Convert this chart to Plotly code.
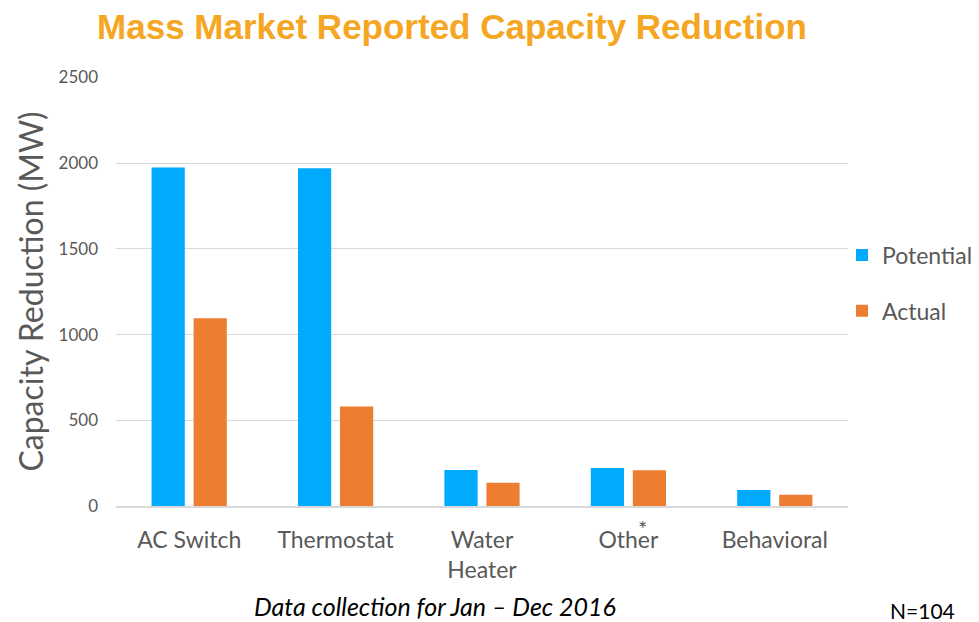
import plotly.graph_objects as go

categories = ["AC Switch", "Thermostat", "Water<br>Heater", "Other", "Behavioral"]
potential = [1975, 1970, 210, 222, 93]
actual = [1095, 580, 136, 208, 66]
y_ticks = [0, 500, 1000, 1500, 2000, 2500]

BLUE = "#00AAFF"
ORANGE = "#ED7D31"
GREY = "#595959"
FONT = "Lato, Open Sans, sans-serif"

# the page has an 8px body margin, so everything is laid out 8px up/left
OFF = 8
W, H = 1000, 622
PLOT_L, PLOT_T, PLOT_W, PLOT_H = 116, 77, 732, 429


def px_x(x):
    return (x - PLOT_L) / PLOT_W


def px_y(y):
    return (PLOT_T + PLOT_H - y) / PLOT_H


fig = go.Figure()
fig.add_trace(go.Bar(name="Potential", x=categories, y=potential, legendgroup="p",
                     marker=dict(color=BLUE, line=dict(width=0))))
fig.add_trace(go.Bar(name="Actual", x=categories, y=actual, legendgroup="a",
                     marker=dict(color=ORANGE, line=dict(width=0))))

fig.update_layout(
    width=W,
    height=H,
    paper_bgcolor="white",
    plot_bgcolor="white",
    barmode="group",
    bargap=0.426,
    bargroupgap=0.21,
    margin=dict(l=PLOT_L - OFF, r=W - (PLOT_L + PLOT_W - OFF), t=PLOT_T - OFF,
                b=H - (PLOT_T - OFF) - PLOT_H, autoexpand=False),
    font=dict(family=FONT, color=GREY),
    title=dict(
        text="<b>Mass Market Reported Capacity Reduction</b>",
        font=dict(family="Liberation Sans, Arial, sans-serif", size=35, color="#F5A623"),
        x=(452 - OFF) / W, xanchor="center", y=1 - (27 - OFF) / H, yanchor="middle",
    ),
    xaxis=dict(
        showgrid=False,
        showline=True,
        linecolor="#D9D9D9",
        linewidth=2,
        ticks="",
        ticklabelstandoff=12,
        tickfont=dict(size=23, color=GREY),
    ),
    yaxis=dict(
        range=[0, 2503],
        tickvals=y_ticks,
        showgrid=True,
        gridcolor="#D9D9D9",
        gridwidth=1,
        zeroline=False,
        ticks="",
        ticklabelstandoff=17,
        tickfont=dict(size=17, color=GREY),
        title=dict(text="Capacity Reduction (MW)", font=dict(size=32, color=GREY), standoff=5),
    ),
    legend=dict(
        x=px_x(842), xanchor="left", y=px_y(283), yanchor="middle",
        font=dict(size=23, color=GREY),
        tracegroupgap=23,
        itemwidth=30,
        bgcolor="rgba(0,0,0,0)",
    ),
)

fig.add_annotation(text="*", xref="paper", yref="paper", x=px_x(642), y=px_y(528),
                   xanchor="center", yanchor="middle",
                   showarrow=False, font=dict(size=22, color=GREY))
fig.add_annotation(text="<i>Data collection for Jan \u2013 Dec 2016</i>", xref="paper", yref="paper",
                   x=px_x(435), y=px_y(606), xanchor="center", yanchor="middle",
                   showarrow=False, font=dict(size=25, color="black"))
fig.add_annotation(text="N=104", xref="paper", yref="paper", x=px_x(922), y=px_y(610),
                   xanchor="center", yanchor="middle", showarrow=False,
                   font=dict(size=21, color="black"))

fig.write_html("out.html")
